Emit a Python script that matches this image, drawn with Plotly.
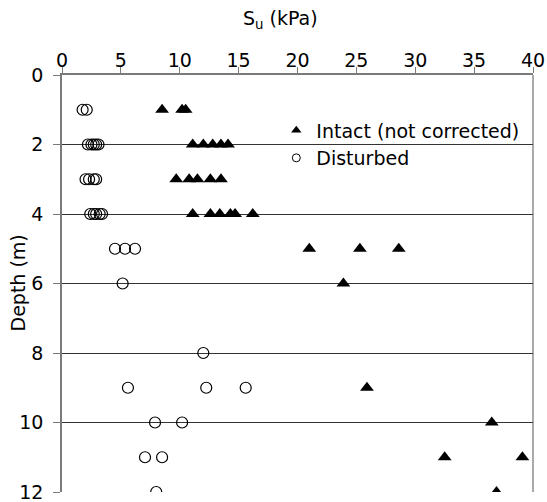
import plotly.graph_objects as go

# Undrained shear strength profiles
intact_depth = [1, 1, 1,
                2, 2, 2, 2, 2,
                3, 3, 3, 3, 3,
                4, 4, 4, 4, 4, 4,
                5, 5, 5,
                6,
                9,
                10,
                11, 11,
                12]
intact_su = [8.5, 10.2, 10.5,
             11.1, 12.0, 12.8, 13.5, 14.1,
             9.7, 10.8, 11.5, 12.6, 13.5,
             11.1, 12.6, 13.4, 14.3, 14.7, 16.2,
             21.0, 25.3, 28.6,
             23.9,
             25.9,
             36.5,
             32.5, 39.1,
             36.9]

disturbed_depth = [1, 1,
                   2, 2, 2, 2, 2,
                   3, 3, 3, 3,
                   4, 4, 4, 4, 4,
                   5, 5, 5,
                   6,
                   8,
                   9, 9, 9,
                   10, 10,
                   11, 11,
                   12]
disturbed_su = [1.75, 2.1,
                2.2, 2.5, 2.7, 2.9, 3.1,
                2.0, 2.3, 2.7, 2.9,
                2.4, 2.7, 2.9, 3.2, 3.4,
                4.5, 5.35, 6.2,
                5.15,
                12.0,
                5.6, 12.25, 15.6,
                7.9, 10.2,
                7.05, 8.5,
                8.0]

x_ticks = [0, 5, 10, 15, 20, 25, 30, 35, 40]
y_ticks = [0, 2, 4, 6, 8, 10, 12]

FONT = "DejaVu Sans"
AXIS_GREY = "#7a7a7a"

fig = go.Figure()

# data
fig.add_trace(go.Scatter(
    x=intact_su, y=intact_depth, mode="markers", showlegend=False,
    marker=dict(symbol="triangle-up", size=12, color="black",
                line=dict(width=0)),
))
fig.add_trace(go.Scatter(
    x=disturbed_su, y=disturbed_depth, mode="markers", showlegend=False,
    marker=dict(symbol="circle-open", size=11, color="black",
                line=dict(width=1.2)),
))

# legend keys (smaller symbols than the plotted markers)
fig.add_trace(go.Scatter(
    x=[None], y=[None], mode="markers", name="Intact (not corrected)",
    marker=dict(symbol="triangle-up", size=9, color="black",
                line=dict(width=0)),
))
fig.add_trace(go.Scatter(
    x=[None], y=[None], mode="markers", name="Disturbed",
    marker=dict(symbol="circle-open", size=8, color="black",
                line=dict(width=1)),
))

fig.update_layout(
    width=547, height=502,
    margin=dict(l=62, r=14, t=75, b=10),
    paper_bgcolor="white", plot_bgcolor="white",
    font=dict(family=FONT, size=19, color="black"),
    showlegend=True,
    legend=dict(x=0.455, y=0.913, xanchor="left", yanchor="top",
                bgcolor="rgba(0,0,0,0)", borderwidth=0,
                font=dict(family=FONT, size=19, color="black"),
                tracegroupgap=0, itemwidth=30),
    xaxis=dict(
        side="top", range=[0, 40], tickvals=x_ticks,
        ticks="outside", ticklen=6, tickcolor=AXIS_GREY, tickwidth=1,
        ticklabelstandoff=-7,
        tickfont=dict(family=FONT, size=19),
        showline=True, linecolor=AXIS_GREY, linewidth=1.5,
        showgrid=False, zeroline=False,
        automargin=False,
    ),
    yaxis=dict(
        range=[12, 0], tickvals=y_ticks,
        ticks="outside", ticklen=7, tickcolor=AXIS_GREY, tickwidth=1,
        ticklabelstandoff=6, ticklabeloverflow="allow",
        tickfont=dict(family=FONT, size=19),
        showline=True, linecolor=AXIS_GREY, linewidth=1.5,
        showgrid=True, gridcolor="#333333", gridwidth=1,
        zeroline=False,
        automargin=False,
    ),
)

# white backing behind the legend, covering the grid line it sits on
fig.add_shape(type="rect", xref="paper", yref="paper", layer="between",
              x0=0.488, x1=0.989, y0=0.77, y1=0.91,
              fillcolor="white", line=dict(width=0))

# right-hand frame edge
fig.add_shape(type="line", xref="paper", yref="paper",
              x0=1, x1=1, y0=0, y1=1,
              line=dict(color="#555555", width=1))

# axis titles
fig.add_annotation(text="S<sub>u</sub> (kPa)", xref="paper", yref="paper",
                   x=0.463, y=1, yshift=56, xanchor="center",
                   yanchor="middle", showarrow=False,
                   font=dict(family=FONT, size=19))
fig.add_annotation(text="Depth (m)", xref="paper", yref="paper",
                   x=0, xshift=-45, y=0.5, textangle=-90,
                   xanchor="center", yanchor="middle", showarrow=False,
                   font=dict(family=FONT, size=19))

fig.write_html("out.html")
